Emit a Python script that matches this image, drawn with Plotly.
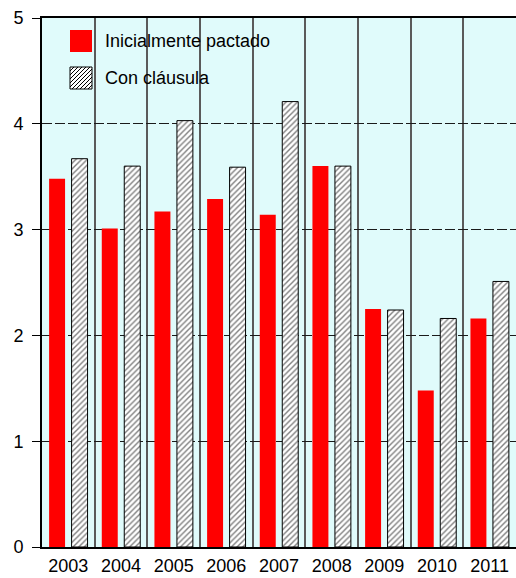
import plotly.graph_objects as go

years = ["2003", "2004", "2005", "2006", "2007", "2008", "2009", "2010", "2011"]
inicial = [3.48, 3.01, 3.17, 3.29, 3.14, 3.60, 2.25, 1.48, 2.16]
clausula = [3.67, 3.60, 4.03, 3.59, 4.21, 3.60, 2.24, 2.16, 2.51]
y_ticks = [0, 1, 2, 3, 4, 5]
series_names = ["Inicialmente pactado", "Con cláusula"]

FONT = "Liberation Sans, Arial, sans-serif"

W, H = 516, 578
ML, MR, MT, MB = 42, 0, 18, 31
PW, PH = W - ML - MR, H - MT - MB

def px2paper(x, y):
    """Convert page pixel coords to paper coords."""
    return ((x - ML) / PW, 1 - (y - MT) / PH)

fig = go.Figure()
fig.add_trace(go.Bar(
    x=years, y=inicial, name=series_names[0],
    marker=dict(color="#FF0000", line=dict(width=0)),
))
fig.add_trace(go.Bar(
    x=years, y=clausula, name=series_names[1],
    marker=dict(color="white", line=dict(color="black", width=1),
                pattern=dict(shape="/", fgcolor="black", bgcolor="white", size=4, solidity=0.35)),
))

# custom legend (larger swatches, like the original)
shapes = []
annotations = []
x0, y0 = px2paper(70, 30)
x1, y1 = px2paper(92, 52)
shapes.append(dict(type="rect", xref="paper", yref="paper", x0=x0, y0=y1, x1=x1, y1=y0,
                   fillcolor="#FF0000", line=dict(width=0), layer="above"))
hx0, hy0, hs = 70, 67, 22
x0, y0 = px2paper(hx0, hy0)
x1, y1 = px2paper(hx0 + hs, hy0 + hs)
shapes.append(dict(type="rect", xref="paper", yref="paper", x0=x0, y0=y1, x1=x1, y1=y0,
                   fillcolor="white", line=dict(color="black", width=1), layer="above"))
path = ""
step = 4
c = -hs + step
while c < hs:
    u_a = max(0, -c)
    u_b = min(hs, hs - c)
    pa = px2paper(hx0 + u_a, hy0 + hs - (u_a + c))
    pb = px2paper(hx0 + u_b, hy0 + hs - (u_b + c))
    path += f"M{pa[0]},{pa[1]} L{pb[0]},{pb[1]} "
    c += step
shapes.append(dict(type="path", xref="paper", yref="paper", path=path,
                   line=dict(color="black", width=1), layer="above"))

for name, yc in zip(series_names, [41, 78]):
    tx, ty = px2paper(103, yc)
    annotations.append(dict(x=tx, y=ty, xref="paper", yref="paper", text=name,
                            showarrow=False, xanchor="left", yanchor="middle",
                            font=dict(family=FONT, size=18, color="black")))

fig.update_layout(
    width=W, height=H,
    margin=dict(l=ML, r=MR, t=MT, b=MB, pad=0, autoexpand=False),
    paper_bgcolor="white",
    plot_bgcolor="#E0FBFB",
    barmode="group",
    bargap=0.146,
    bargroupgap=0.29,
    font=dict(family=FONT, size=18, color="black"),
    showlegend=False,
    shapes=shapes,
    annotations=annotations,
    xaxis=dict(
        type="category",
        tickson="boundaries",
        showgrid=True, gridcolor="#5a5a5a", gridwidth=1.5,
        showline=True, linecolor="black", linewidth=2, mirror=True,
        ticks="outside", ticklen=8, tickcolor="rgba(0,0,0,0)",
        ticklabelstandoff=1,
        tickfont=dict(family=FONT, size=18),
        zeroline=False,
        automargin=False,
    ),
    yaxis=dict(
        range=[0, 5],
        tickvals=y_ticks,
        showgrid=True, gridcolor="#1a1a1a", gridwidth=1, griddash="10px,3px",
        showline=True, linecolor="black", linewidth=2,
        ticks="outside", ticklen=8, tickcolor="black", tickwidth=1,
        ticklabelstandoff=5,
        tickfont=dict(family=FONT, size=18),
        zeroline=False,
        automargin=False,
    ),
)

fig.write_html("out.html", config={"displayModeBar": False},
               post_script="document.body.style.margin='0';document.body.style.overflow='hidden';")
